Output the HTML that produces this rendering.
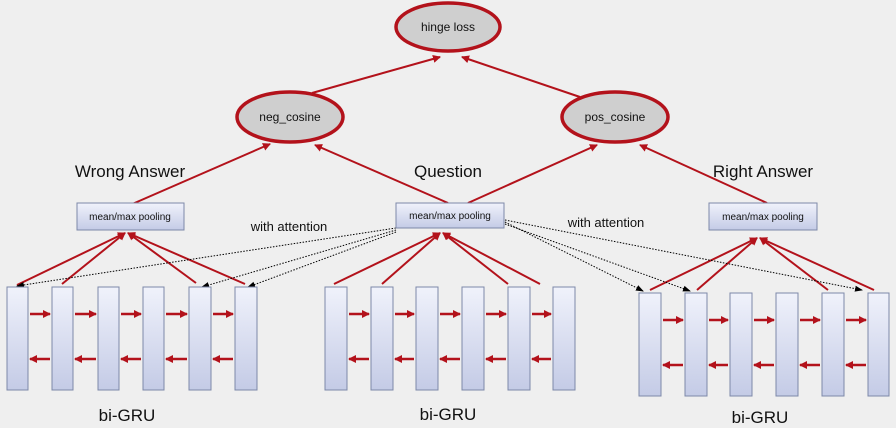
<!DOCTYPE html>
<html><head><meta charset="utf-8"><style>
body{margin:0;background:#efefef;}
svg{display:block;font-family:"Liberation Sans",Arial,sans-serif;}
</style></head><body>
<svg width="896" height="428" viewBox="0 0 896 428" xmlns="http://www.w3.org/2000/svg">
<defs>
<marker id="r" markerWidth="8" markerHeight="8" refX="7" refY="4" orient="auto" markerUnits="userSpaceOnUse"><path d="M0,0 L8,4 L0,8z" fill="#b3121b"/></marker>
<marker id="k" markerWidth="8" markerHeight="8" refX="7" refY="4" orient="auto" markerUnits="userSpaceOnUse"><path d="M0,1 L8,4 L0,7z" fill="#000"/></marker>
<linearGradient id="g" x1="0" y1="0" x2="0" y2="1"><stop offset="0" stop-color="#f0f2fb"/><stop offset="1" stop-color="#c4cbe6"/></linearGradient>
</defs>
<rect width="896" height="428" fill="#efefef"/>
<g fill="#cfcfcf" stroke="#b3121b" stroke-width="3.5">
<ellipse cx="448" cy="27" rx="52" ry="24"/>
<ellipse cx="290" cy="117" rx="53" ry="25"/>
<ellipse cx="615" cy="117" rx="53" ry="25"/>
</g>
<g font-size="12" text-anchor="middle" fill="#111">
<text x="448" y="31">hinge loss</text>
<text x="290" y="121">neg_cosine</text>
<text x="615" y="121">pos_cosine</text>
</g>
<g stroke="#b3121b" stroke-width="2" marker-end="url(#r)" fill="none">
<line x1="312" y1="93" x2="440" y2="57"/>
<line x1="580" y1="97" x2="462" y2="57"/>
<line x1="130" y1="205" x2="270" y2="144"/>
<line x1="448" y1="203" x2="315" y2="145"/>
<line x1="468" y1="203" x2="597" y2="145"/>
<line x1="767" y1="203" x2="640" y2="145"/>
<line x1="17" y1="285" x2="125" y2="233"/>
<line x1="62" y1="284" x2="125" y2="233"/>
<line x1="196" y1="283" x2="128" y2="233"/>
<line x1="245" y1="284" x2="128" y2="233"/>
<line x1="334" y1="284" x2="440" y2="233"/>
<line x1="382" y1="284" x2="440" y2="233"/>
<line x1="508" y1="284" x2="443" y2="233"/>
<line x1="540" y1="284" x2="443" y2="233"/>
<line x1="650" y1="290" x2="757" y2="238"/>
<line x1="697" y1="290" x2="757" y2="238"/>
<line x1="828" y1="290" x2="760" y2="238"/>
<line x1="874" y1="290" x2="760" y2="238"/>
</g>
<g stroke="#000" stroke-width="1" stroke-dasharray="1.5,1.5" marker-end="url(#k)" fill="none">
<line x1="396" y1="228" x2="17" y2="286"/>
<line x1="396" y1="230" x2="202" y2="287"/>
<line x1="396" y1="232" x2="248" y2="287"/>
<line x1="505" y1="222" x2="643" y2="291"/>
<line x1="505" y1="224" x2="690" y2="291"/>
<line x1="505" y1="220" x2="862" y2="290"/>
</g>
<g fill="url(#g)" stroke="#7d88a8" stroke-width="1">
<rect x="77" y="203" width="107" height="27"/>
<rect x="396" y="203" width="108" height="25"/>
<rect x="709" y="203" width="108" height="27"/>
<rect x="7" y="287" width="21" height="103"/><rect x="52" y="287" width="21" height="103"/><rect x="98" y="287" width="21" height="103"/><rect x="143" y="287" width="21" height="103"/><rect x="189" y="287" width="22" height="103"/><rect x="235" y="287" width="22" height="103"/>
<rect x="325" y="287" width="22" height="103"/><rect x="371" y="287" width="22" height="103"/><rect x="416" y="287" width="22" height="103"/><rect x="462" y="287" width="22" height="103"/><rect x="508" y="287" width="22" height="103"/><rect x="553" y="287" width="22" height="103"/>
<rect x="639" y="293" width="22" height="103"/><rect x="685" y="293" width="22" height="103"/><rect x="730" y="293" width="22" height="103"/><rect x="776" y="293" width="22" height="103"/><rect x="822" y="293" width="22" height="103"/><rect x="868" y="293" width="21" height="103"/>
</g>
<g font-size="10" text-anchor="middle" fill="#111">
<text x="130" y="220">mean/max   pooling</text>
<text x="450" y="219">mean/max   pooling</text>
<text x="763" y="220">mean/max   pooling</text>
</g>
<g stroke="#b3121b" stroke-width="2.5" marker-end="url(#r)">
<line x1="30" y1="314" x2="50" y2="314"/><line x1="75" y1="314" x2="96" y2="314"/><line x1="121" y1="314" x2="141" y2="314"/><line x1="166" y1="314" x2="187" y2="314"/><line x1="213" y1="314" x2="233" y2="314"/>
<line x1="50" y1="359" x2="30" y2="359"/><line x1="96" y1="359" x2="75" y2="359"/><line x1="141" y1="359" x2="121" y2="359"/><line x1="187" y1="359" x2="166" y2="359"/><line x1="233" y1="359" x2="213" y2="359"/>
<line x1="349" y1="314" x2="369" y2="314"/><line x1="395" y1="314" x2="414" y2="314"/><line x1="440" y1="314" x2="460" y2="314"/><line x1="486" y1="314" x2="506" y2="314"/><line x1="532" y1="314" x2="551" y2="314"/>
<line x1="369" y1="359" x2="349" y2="359"/><line x1="414" y1="359" x2="395" y2="359"/><line x1="460" y1="359" x2="440" y2="359"/><line x1="506" y1="359" x2="486" y2="359"/><line x1="551" y1="359" x2="532" y2="359"/>
<line x1="663" y1="320" x2="683" y2="320"/><line x1="709" y1="320" x2="728" y2="320"/><line x1="754" y1="320" x2="774" y2="320"/><line x1="800" y1="320" x2="820" y2="320"/><line x1="846" y1="320" x2="866" y2="320"/>
<line x1="683" y1="365" x2="663" y2="365"/><line x1="728" y1="365" x2="709" y2="365"/><line x1="774" y1="365" x2="754" y2="365"/><line x1="820" y1="365" x2="800" y2="365"/><line x1="866" y1="365" x2="846" y2="365"/>
</g>
<g font-size="17" text-anchor="middle" fill="#111">
<text x="130" y="177">Wrong Answer</text>
<text x="448" y="177">Question</text>
<text x="763" y="177">Right Answer</text>
<text x="127" y="421">bi-GRU</text>
<text x="448" y="420">bi-GRU</text>
<text x="760" y="423">bi-GRU</text>
</g>
<g font-size="13" text-anchor="middle" fill="#111">
<text x="289" y="231">with attention</text>
<text x="606" y="227">with attention</text>
</g>
</svg>
</body></html>
